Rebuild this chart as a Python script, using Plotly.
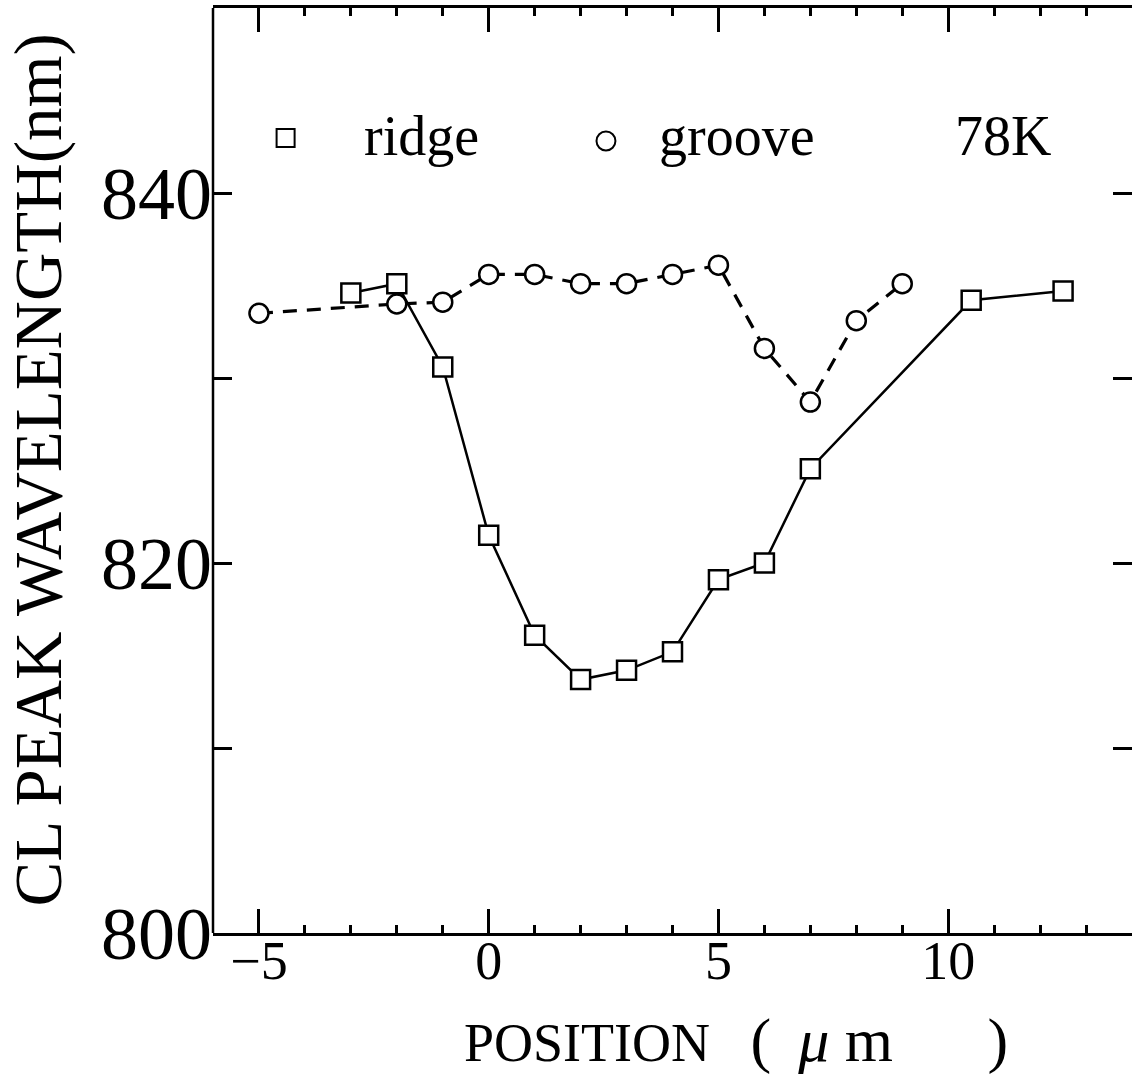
import plotly.graph_objects as go

# ---- data ----
ridge_x = [-3, -2, -1, 0, 1, 2, 3, 4, 5, 6, 7, 10.5, 12.5]
ridge_y = [834.6, 835.1, 830.6, 821.5, 816.1, 813.7, 814.2, 815.2, 819.1, 820.0, 825.1, 834.2, 834.7]

groove_x = [-5, -2, -1, 0, 1, 2, 3, 4, 5, 6, 7, 8, 9]
groove_y = [833.5, 834.0, 834.1, 835.6, 835.6, 835.1, 835.1, 835.6, 836.1, 831.6, 828.7, 833.1, 835.1]

x_tickvals = [-5, 0, 5, 10]
x_ticktext = ["\u22125", "0", "5", "10"]
y_tickvals = [800, 810, 820, 830, 840]
y_ticktext = ["800", "", "820", "", "840"]

SERIF = "Liberation Serif, Times New Roman, serif"
NB = "\u00a0"

fig = go.Figure()

fig.add_trace(go.Scatter(
    x=groove_x, y=groove_y, mode="lines+markers", name="groove",
    line=dict(color="black", width=3.2, dash="14px,10px"),
    marker=dict(symbol="circle", size=19, color="white",
                line=dict(color="black", width=2.5)),
))
fig.add_trace(go.Scatter(
    x=ridge_x, y=ridge_y, mode="lines+markers", name="ridge",
    line=dict(color="black", width=2.5),
    marker=dict(symbol="square", size=19, color="white",
                line=dict(color="black", width=2.5)),
))

fig.update_layout(
    width=1132, height=1079,
    margin=dict(l=213, r=0, t=8, b=146),
    paper_bgcolor="white", plot_bgcolor="white",
    showlegend=False,
    font=dict(family=SERIF, color="black"),
)

fig.update_xaxes(
    range=[-6, 14], showgrid=False, zeroline=False,
    showline=True, linecolor="black", linewidth=2.5, mirror="ticks",
    ticks="inside", ticklen=24, tickwidth=2.5, tickcolor="black",
    tickvals=x_tickvals, ticktext=x_ticktext,
    tickfont=dict(family=SERIF, size=54, color="black"),
    ticklabelstandoff=-22,
    minor=dict(ticks="inside", ticklen=8, tickwidth=2.5, tickcolor="black", dtick=1, showgrid=False),
)
fig.update_yaxes(
    range=[800, 850], showgrid=False, zeroline=False,
    showline=False, mirror="ticks",
    ticks="inside", ticklen=19, tickwidth=2.5, tickcolor="black",
    tickvals=y_tickvals, ticktext=y_ticktext,
    tickfont=dict(family=SERIF, size=74, color="black"),
)

# left frame line (right frame falls outside the picture)
fig.add_shape(type="line", xref="paper", yref="paper", x0=0, x1=0, y0=0, y1=1,
              line=dict(color="black", width=2.5))

# in-plot legend
fig.add_shape(type="rect", xref="paper", yref="paper",
              x0=0.0790 - 0.0098, x1=0.0790 + 0.0098, y0=0.8595 - 0.0097, y1=0.8595 + 0.0097,
              line=dict(color="black", width=2), fillcolor="white")
fig.add_shape(type="circle", xref="paper", yref="paper",
              x0=0.4276 - 0.0103, x1=0.4276 + 0.0103, y0=0.8562 - 0.0103, y1=0.8562 + 0.0103,
              line=dict(color="black", width=2), fillcolor="white")

for txt, px in [("ridge", 0.1621), ("groove", 0.4831), ("78K", 0.8052)]:
    fig.add_annotation(text=txt, xref="paper", yref="paper", x=px, y=0.8616,
                       xanchor="left", yanchor="middle", showarrow=False,
                       font=dict(family=SERIF, size=56, color="black"))

# axis titles
fig.add_annotation(text="CL PEAK WAVELENGTH(nm)", xref="paper", yref="paper",
                   x=(38 - 213) / 919, y=0.5, textangle=-90,
                   xanchor="center", yanchor="middle", showarrow=False,
                   font=dict(family=SERIF, size=67, color="black"))
x_title = ("POSITION" + NB * 3 + "<span style='font-size:62px'>(</span>" + NB * 2
           + "<span style='font-size:62px'><i>μ</i>" + NB + "m</span>" + NB * 7
           + "<span style='font-size:62px'>)</span>")
fig.add_annotation(text=x_title,
                   xref="paper", yref="paper",
                   x=(462 - 213) / 919, y=-(1040 - 933) / 925,
                   xanchor="left", yanchor="middle", showarrow=False,
                   font=dict(family=SERIF, size=54, color="black"))

fig.write_html("out.html")
